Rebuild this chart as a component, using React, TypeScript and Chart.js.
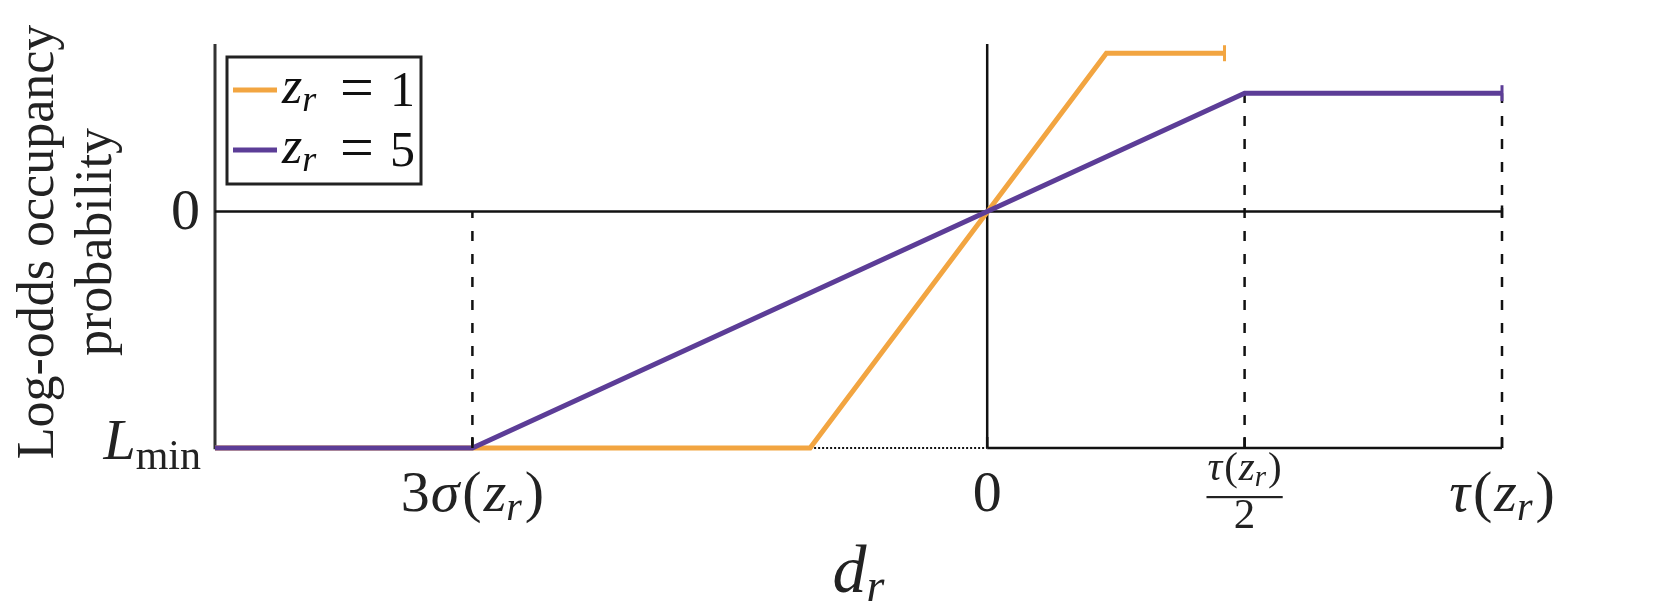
import React, { useEffect, useRef } from "react";
import { Chart, registerables } from "chart.js";

Chart.register(...registerables);

// ---- axis ranges (d_r in units of tau(z_r); log-odds in units of |L_min|) ----
const X_MIN = -1.5;
const X_MAX = 1;
const Y_MIN = -1;
const Y_MAX = 0.708;

// tick values: 3σ(z_r), 0, τ(z_r)/2, τ(z_r)
const xTickValues = [-1, 0, 0.5, 1];
// L_min, 0
const yTickValues = [-1, 0];

// series z_r = 1
const orangeX = [-1.5, -0.344, 0.2315, 0.461];
const orangeY = [-1, -1, 0.669, 0.669];
// series z_r = 5
const purpleX = [-1.5, -1, 0.5, 1];
const purpleY = [-1, -1, 0.5, 0.5];

// reference lines
const zeroLineX = [-1.5, 1];
const zeroLineY = [0, 0];
const baseLineX = [0, 1];
const baseLineY = [-1, -1];
const dottedX = [-0.344, 0];
const dottedY = [-1, -1];
const vZeroX = [0, 0];
const vZeroY = [-1, 0.708];
const leftAxisX = [-1.5, -1.5];
const leftAxisY = [-1.005, 0.708];
const guideX = [-1, 0.5, 1];
const guideTop = [0, 0.5, 0.5];

const ORANGE = "#F2A541";
const PURPLE = "#5C3D97";
const SERIF = '"Liberation Serif", "Times New Roman", "DejaVu Serif", serif';
const it = (s: number) => `italic ${s}px ${SERIF}`;
const rm = (s: number) => `${s}px ${SERIF}`;

type Run = { t: string; f: string; dy?: number; gap?: number };

function runsWidth(ctx: CanvasRenderingContext2D, runs: Run[]) {
  let w = 0;
  for (const r of runs) {
    ctx.font = r.f;
    w += ctx.measureText(r.t).width + (r.gap || 0);
  }
  return w;
}

function drawRuns(
  ctx: CanvasRenderingContext2D,
  runs: Run[],
  x: number,
  y: number,
  align: "left" | "center" | "right"
) {
  const w = runsWidth(ctx, runs);
  let cx = align === "center" ? x - w / 2 : align === "right" ? x - w : x;
  ctx.textAlign = "left";
  ctx.textBaseline = "alphabetic";
  for (const r of runs) {
    ctx.font = r.f;
    ctx.fillText(r.t, cx, y + (r.dy || 0));
    cx += ctx.measureText(r.t).width + (r.gap || 0);
  }
}

const pts = (xs: number[], ys: number[]) => xs.map((x, i) => ({ x, y: ys[i] }));

const textPlugin = {
  id: "mathText",
  afterDatasetsDraw(chart: any) {
    const ctx: CanvasRenderingContext2D = chart.ctx;
    const xs = chart.scales.x;
    const ys = chart.scales.y;
    const area = chart.chartArea;
    const yBase = ys.getPixelForValue(-1);
    ctx.save();
    ctx.fillStyle = "#222";
    ctx.strokeStyle = "#111";

    // inward ticks on the bottom line
    ctx.lineWidth = 2.5;
    for (const v of xTickValues) {
      const px = xs.getPixelForValue(v);
      ctx.beginPath();
      ctx.moveTo(px, yBase);
      ctx.lineTo(px, yBase - 11);
      ctx.stroke();
    }
    // cap at the end of the zero line
    const xr = xs.getPixelForValue(1);
    const y0 = ys.getPixelForValue(0);
    ctx.beginPath();
    ctx.moveTo(xr, y0 - 6);
    ctx.lineTo(xr, y0 + 6);
    ctx.stroke();

    // x tick labels
    const T = 58;
    const S = 40;
    const lb = area.bottom + 63;
    const tickRuns: Run[][] = [
      [
        { t: "3", f: rm(T), gap: 1 },
        { t: "σ", f: it(T), gap: 3 },
        { t: "(", f: rm(T), gap: 2 },
        { t: "z", f: it(T) },
        { t: "r", f: it(S), dy: 9, gap: 3 },
        { t: ")", f: rm(T) },
      ],
      [{ t: "0", f: rm(T) }],
      [],
      [
        { t: "τ", f: it(T), gap: 3 },
        { t: "(", f: rm(T), gap: 2 },
        { t: "z", f: it(T) },
        { t: "r", f: it(S), dy: 9, gap: 3 },
        { t: ")", f: rm(T) },
      ],
    ];
    xTickValues.forEach((v, i) => {
      const px = xs.getPixelForValue(v);
      if (i === 2) {
        const num: Run[] = [
          { t: "τ", f: it(41), gap: 2 },
          { t: "(", f: rm(41), gap: 1 },
          { t: "z", f: it(41) },
          { t: "r", f: it(29), dy: 6, gap: 2 },
          { t: ")", f: rm(41) },
        ];
        drawRuns(ctx, num, px, area.bottom + 32, "center");
        const nw = runsWidth(ctx, num) + 2;
        ctx.fillRect(px - nw / 2, area.bottom + 48, nw, 2.2);
        drawRuns(ctx, [{ t: "2", f: rm(43) }], px, area.bottom + 80, "center");
      } else {
        drawRuns(ctx, tickRuns[i], px, lb, "center");
      }
    });

    // y tick labels
    const yLabelRight = area.left - 15;
    yTickValues.forEach((v) => {
      const py = ys.getPixelForValue(v);
      if (v === 0) {
        drawRuns(ctx, [{ t: "0", f: rm(T) }], yLabelRight, py + 18, "right");
      } else {
        drawRuns(
          ctx,
          [
            { t: "L", f: it(T), gap: 0 },
            { t: "min", f: rm(42), dy: 10 },
          ],
          yLabelRight + 1,
          py + 11,
          "right"
        );
      }
    });

    // x axis title
    drawRuns(
      ctx,
      [
        { t: "d", f: it(68) },
        { t: "r", f: it(46), dy: 9 },
      ],
      (area.left + area.right) / 2,
      area.bottom + 144,
      "center"
    );

    // y axis title (rotated, two lines)
    ctx.save();
    const cy = 242;
    ctx.translate(53, cy);
    ctx.rotate(-Math.PI / 2);
    ctx.textAlign = "center";
    ctx.textBaseline = "alphabetic";
    ctx.font = rm(52);
    ctx.fillText("Log-odds occupancy", 0, 0);
    ctx.fillText("probability", 0, 58);
    ctx.restore();

    // legend
    const bx = area.left + 12;
    const by = area.top + 13;
    const bw = 194;
    const bh = 127;
    ctx.fillStyle = "#fff";
    ctx.fillRect(bx, by, bw, bh);
    ctx.strokeStyle = "#222";
    ctx.lineWidth = 3;
    ctx.strokeRect(bx, by, bw, bh);
    const entries = [
      { c: ORANGE, v: "1", yc: by + 33 },
      { c: PURPLE, v: "5", yc: by + 93 },
    ];
    for (const e of entries) {
      ctx.strokeStyle = e.c;
      ctx.lineWidth = 5;
      ctx.beginPath();
      ctx.moveTo(bx + 6, e.yc);
      ctx.lineTo(bx + 50, e.yc);
      ctx.stroke();
      ctx.fillStyle = "#111";
      drawRuns(
        ctx,
        [
          { t: "z", f: it(52) },
          { t: "r", f: it(36), dy: 8 },
        ],
        bx + 55,
        e.yc + 13,
        "left"
      );
      drawRuns(ctx, [{ t: "=", f: rm(60) }], bx + 130, e.yc + 17, "center");
      drawRuns(ctx, [{ t: e.v, f: rm(50) }], bx + 163, e.yc + 16, "left");
    }
    ctx.restore();
  },
};

export default function App() {
  const ref = useRef<HTMLCanvasElement | null>(null);

  useEffect(() => {
    if (!ref.current) return;
    const black = (xs: number[], ys: number[], order: number, extra: any = {}) => ({
      data: pts(xs, ys),
      showLine: true,
      borderColor: "#111",
      borderWidth: 2.5,
      pointRadius: 0,
      order,
      clip: false,
      ...extra,
    });
    const guides = guideX.map((gx, i) =>
      black([gx, gx], [-1, guideTop[i]], 5, { borderDash: [10, 13], borderWidth: 2.5 })
    );
    const capRadius = (n: number, r: number) => (c: any) => (c.dataIndex === n - 1 ? r : 0);

    const chart = new Chart(ref.current, {
      type: "scatter",
      data: {
        datasets: [
          {
            label: "z_r = 5",
            data: pts(purpleX, purpleY),
            showLine: true,
            borderColor: PURPLE,
            backgroundColor: PURPLE,
            borderWidth: 5,
            pointStyle: "line",
            rotation: 90,
            pointRadius: capRadius(purpleX.length, 8),
            pointBorderColor: PURPLE,
            pointBorderWidth: 3,
            order: 0,
            clip: false,
          },
          {
            label: "z_r = 1",
            data: pts(orangeX, orangeY),
            showLine: true,
            borderColor: ORANGE,
            backgroundColor: ORANGE,
            borderWidth: 5,
            pointStyle: "line",
            rotation: 90,
            pointRadius: capRadius(orangeX.length, 8),
            pointBorderColor: ORANGE,
            pointBorderWidth: 3,
            order: 1,
            clip: false,
          },
          black(zeroLineX, zeroLineY, 3),
          black(baseLineX, baseLineY, 3),
          black(dottedX, dottedY, 3, { borderDash: [2, 2], borderWidth: 2 }),
          black(vZeroX, vZeroY, 3),
          black(leftAxisX, leftAxisY, 3, { borderColor: "#333", borderWidth: 3 }),
          ...guides,
        ] as any,
      },
      options: {
        animation: false,
        responsive: false,
        maintainAspectRatio: false,
        layout: { padding: { left: 215, right: 158, top: 44, bottom: 163 } },
        plugins: { legend: { display: false }, tooltip: { enabled: false } },
        scales: {
          x: { type: "linear", min: X_MIN, max: X_MAX, display: false },
          y: { type: "linear", min: Y_MIN, max: Y_MAX, display: false },
        },
      },
      plugins: [textPlugin],
    });
    return () => chart.destroy();
  }, []);

  return (
    <div style={{ position: "fixed", left: 0, top: 0, width: 1660, height: 611, background: "#fff" }}>
      <canvas ref={ref} width={1660} height={611} style={{ width: 1660, height: 611 }} />
    </div>
  );
}
